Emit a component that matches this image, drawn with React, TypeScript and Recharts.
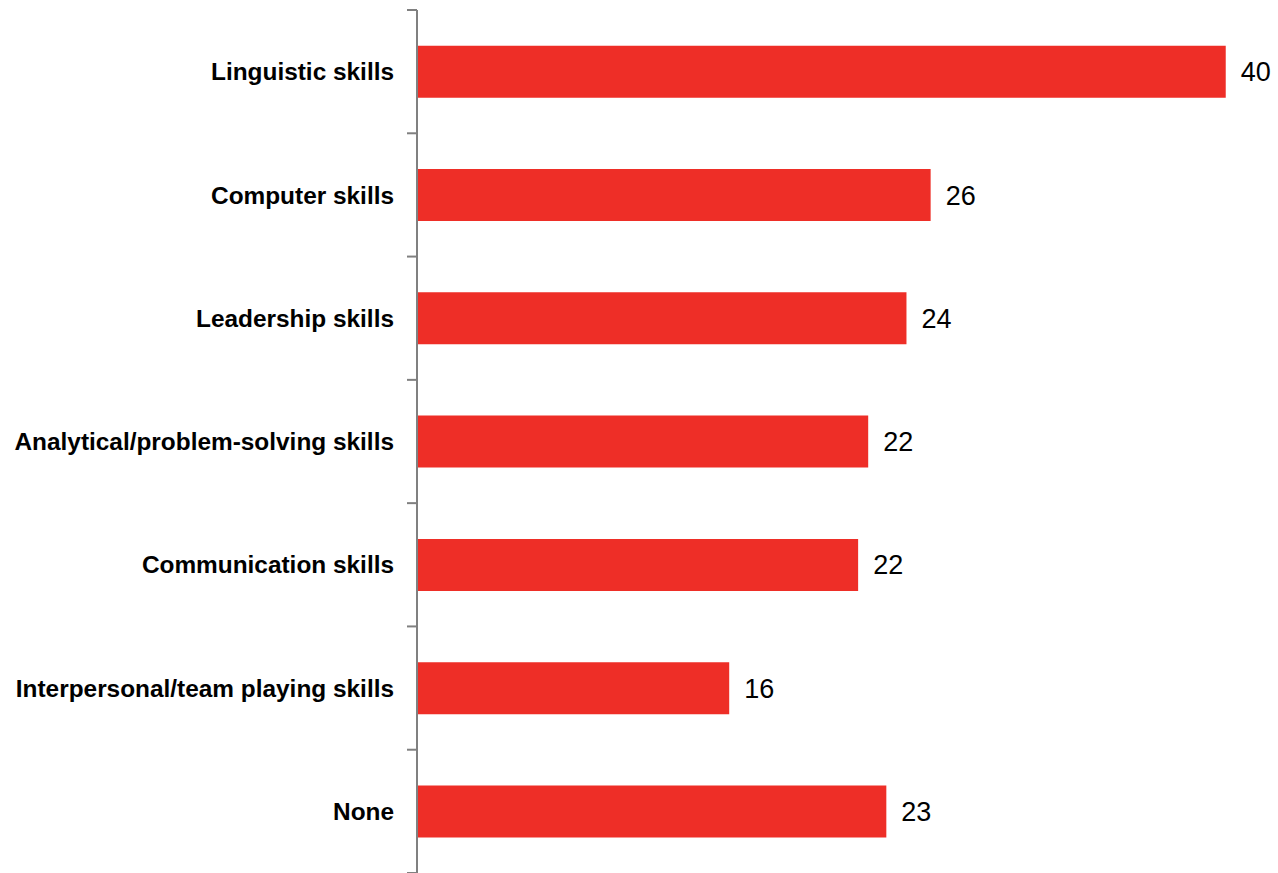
import { BarChart, Bar, XAxis, YAxis, LabelList } from 'recharts';

const categories = [
  'Linguistic skills',
  'Computer skills',
  'Leadership skills',
  'Analytical/problem-solving skills',
  'Communication skills',
  'Interpersonal/team playing skills',
  'None',
];
const values = [40.15, 25.5, 24.3, 22.4, 21.9, 15.5, 23.3];

const data = categories.map((name, i) => ({ name, value: values[i] }));

const FONT = '"Liberation Sans", Arial, sans-serif';
const TICK_SIZE = 10;
const TICK_MARGIN = 13;

// category label plus the small grey tick marks on the band boundaries
function CategoryTick(props: any) {
  const { x, y, payload, index } = props;
  const half = payload.offset || 0;
  const lx1 = x + TICK_MARGIN;
  const lx2 = lx1 + TICK_SIZE;
  const isLast = index === categories.length - 1;
  return (
    <g>
      <line x1={lx1} x2={lx2} y1={y - half} y2={y - half} stroke="#808080" strokeWidth={2} />
      {isLast && (
        <line x1={lx1} x2={lx2} y1={y + half} y2={y + half} stroke="#808080" strokeWidth={2} />
      )}
      <text
        x={x}
        y={y}
        dy="0.355em"
        textAnchor="end"
        fontSize={24.4}
        fontWeight="bold"
        fill="#000"
        fontFamily={FONT}
      >
        {payload.value}
      </text>
    </g>
  );
}

export default function App() {
  return (
    <div style={{ position: 'absolute', left: 0, top: 0, background: '#fff' }}>
      <BarChart
        width={1278}
        height={873}
        data={data}
        layout="vertical"
        margin={{ top: 10, right: 15, bottom: 0, left: 0 }}
        barCategoryGap="29%"
      >
        <XAxis type="number" domain={[0, 42]} hide />
        <YAxis
          type="category"
          dataKey="name"
          width={417}
          interval={0}
          axisLine={{ stroke: '#808080', strokeWidth: 2 }}
          tickLine={false}
          tickSize={TICK_SIZE}
          tickMargin={TICK_MARGIN}
          tick={<CategoryTick />}
        />
        <Bar dataKey="value" fill="#EE2E27" isAnimationActive={false}>
          <LabelList
            dataKey="value"
            position="right"
            offset={15}
            formatter={(v: number) => Math.round(v)}
            style={{ fontSize: 27, fill: '#000', fontFamily: FONT }}
          />
        </Bar>
      </BarChart>
    </div>
  );
}
